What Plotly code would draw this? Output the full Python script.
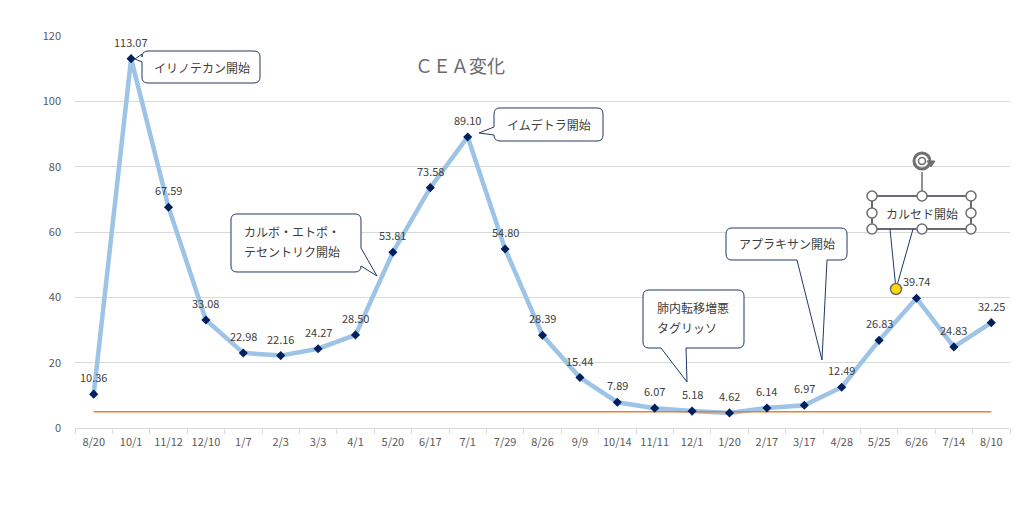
import plotly.graph_objects as go

# CEA values per test date
dates = ["8/20", "10/1", "11/12", "12/10", "1/7", "2/3", "3/3", "4/1", "5/20", "6/17",
         "7/1", "7/29", "8/26", "9/9", "10/14", "11/11", "12/1", "1/20", "2/17", "3/17",
         "4/28", "5/25", "6/26", "7/14", "8/10"]
cea = [10.36, 113.07, 67.59, 33.08, 22.98, 22.16, 24.27, 28.50, 53.81, 73.58,
       89.10, 54.80, 28.39, 15.44, 7.89, 6.07, 5.18, 4.62, 6.14, 6.97,
       12.49, 26.83, 39.74, 24.83, 32.25]
ref_value = 5.0  # upper limit of normal
y_ticks = [0, 20, 40, 60, 80, 100, 120]

# page geometry (pixels); the browser puts an 8px body margin round the figure
W, H = 1023, 519
OFF = 8
L, R, T, B = 75, 13, 36, 91
PW, PH = W - L - R, H - T - B

FONT = "Noto Sans CJK JP, Noto Sans, sans-serif"
TXT = "#404040"
EDGE = "#1f3864"


def px(x):
    return (x - L) / PW


def py(y):
    return (T + PH - y) / PH


def pt(x, y):
    return f"{px(x):.5f},{py(y):.5f}"


def callout(x0, y0, x1, y1, tail=None, r=6):
    # rounded rectangle with a wedge, traced clockwise on screen
    edge, p1, tip, p2 = tail if tail else (None, None, None, None)
    d = "M" + pt(x0 + r, y0)
    if edge == "top":
        d += " L" + pt(p1, y0) + " L" + pt(*tip) + " L" + pt(p2, y0)
    d += " L" + pt(x1 - r, y0) + " Q" + pt(x1, y0) + " " + pt(x1, y0 + r)
    if edge == "right":
        d += " L" + pt(x1, p1) + " L" + pt(*tip) + " L" + pt(x1, p2)
    d += " L" + pt(x1, y1 - r) + " Q" + pt(x1, y1) + " " + pt(x1 - r, y1)
    if edge == "bottom":
        d += " L" + pt(p1, y1) + " L" + pt(*tip) + " L" + pt(p2, y1)
    d += " L" + pt(x0 + r, y1) + " Q" + pt(x0, y1) + " " + pt(x0, y1 - r)
    if edge == "left":
        d += " L" + pt(x0, p1) + " L" + pt(*tip) + " L" + pt(x0, p2)
    d += " L" + pt(x0, y0 + r) + " Q" + pt(x0, y0) + " " + pt(x0 + r, y0) + " Z"
    return dict(type="path", xref="paper", yref="paper", path=d,
                fillcolor="white", line=dict(color=EDGE, width=1), layer="above")


def label(x, y, text, size=12):
    return dict(xref="paper", yref="paper", x=px(x), y=py(y), text=text,
                showarrow=False, xanchor="left", yanchor="middle",
                font=dict(family=FONT, size=size, color=TXT))


def circle(cx, cy, rad, fill, color="#6f6f6f", width=1.5):
    return dict(type="circle", xref="paper", yref="paper",
                x0=px(cx - rad), x1=px(cx + rad), y0=py(cy + rad), y1=py(cy - rad),
                fillcolor=fill, line=dict(color=color, width=width), layer="above")


def seg(xa, ya, xb, yb, color, width=1):
    return dict(type="line", xref="paper", yref="paper",
                x0=px(xa), y0=py(ya), x1=px(xb), y1=py(yb),
                line=dict(color=color, width=width), layer="above")


fig = go.Figure()

fig.add_trace(go.Scatter(x=dates, y=cea, mode="lines",
                         line=dict(color="#9dc3e6", width=4.5), hoverinfo="skip"))
fig.add_trace(go.Scatter(x=[dates[0], dates[-1]], y=[ref_value, ref_value], mode="lines",
                         line=dict(color="#ed7d31", width=1.5), hoverinfo="skip"))
fig.add_trace(go.Scatter(x=dates, y=cea, mode="markers",
                         marker=dict(symbol="diamond", size=7, color="#002060")))

shapes = []
annotations = []

# data labels above each point
for d, v in zip(dates, cea):
    annotations.append(dict(x=d, y=v, xref="x", yref="y", text=f"{v:.2f}",
                            showarrow=False, yshift=17, yanchor="middle",
                            font=dict(family=FONT, size=11, color=TXT)))

# spreadsheet cell lines peeking above the chart
shapes.append(seg(OFF, 3, W - OFF, 3, "#e3e3e3"))
for cx in range(72, W - OFF, 72):
    shapes.append(seg(cx, OFF, cx, 3, "#e3e3e3"))

# speech bubbles
shapes.append(callout(142, 51, 260, 83, ("left", 62, (135, 59), 54)))
annotations.append(label(152, 67, "イリノテカン開始"))

shapes.append(callout(494, 108, 603, 141, ("left", 135, (479, 133), 127)))
annotations.append(label(505, 124, "イムデトラ開始"))

shapes.append(callout(231, 214, 361, 272, ("right", 248, (377, 276), 266)))
annotations.append(label(242, 231, "カルボ・エトポ・"))
annotations.append(label(242, 251, "テセントリク開始"))

shapes.append(callout(643, 290, 744, 348, ("bottom", 686, (687, 382), 661)))
annotations.append(label(655, 307, "肺内転移増悪"))
annotations.append(label(655, 327, "タグリッソ"))

shapes.append(callout(726, 228, 847, 260, ("bottom", 827, (822, 360), 797)))
annotations.append(label(737, 243, "アプラキサン開始"))

# selected callout with its handles
shapes.append(seg(890, 229, 896, 289, EDGE))
shapes.append(seg(913, 229, 896, 289, EDGE))
shapes.append(dict(type="rect", xref="paper", yref="paper",
                   x0=px(872), x1=px(971), y0=py(229), y1=py(196),
                   fillcolor="white", line=dict(color="#3a3a4a", width=1.5), layer="above"))
annotations.append(label(884, 213, "カルセド開始"))
shapes.append(seg(922, 172, 922, 196, "#6f6f6f", 1.5))
shapes.append(circle(922, 161, 8, "rgba(0,0,0,0)", "#6f6f6f", 3))
shapes.append(circle(922, 161, 3.5, "rgba(0,0,0,0)", "#6f6f6f", 1.5))
shapes.append(dict(type="path", xref="paper", yref="paper", layer="above",
                   path="M" + pt(927, 161) + " L" + pt(935, 161) + " L" + pt(931, 167) + " Z",
                   fillcolor="#6f6f6f", line=dict(color="#6f6f6f", width=1)))
for hx, hy in [(872, 196), (922, 196), (971, 196), (872, 213), (971, 213),
               (872, 229), (922, 229), (971, 229)]:
    shapes.append(circle(hx, hy, 5, "white"))
shapes.append(circle(896, 289, 5.5, "#ffd700", "#6f6f6f", 1.5))

# chart title
annotations.append(dict(xref="paper", yref="paper", x=px(460), y=py(65), text="ＣＥＡ変化",
                        showarrow=False, xanchor="center", yanchor="middle",
                        font=dict(family=FONT, size=18, color="#6a6a6a")))

fig.update_layout(
    width=W - 2 * OFF, height=H - 2 * OFF,
    margin=dict(l=L - OFF, r=R - OFF, t=T - OFF, b=B - OFF, pad=0),
    plot_bgcolor="white", paper_bgcolor="white",
    showlegend=False,
    shapes=shapes, annotations=annotations,
    xaxis=dict(type="category", range=[-0.5, len(dates) - 0.5],
               tickson="boundaries", ticks="outside", ticklen=5, tickcolor="#d9d9d9",
               showline=True, linecolor="#d9d9d9", linewidth=1, showgrid=False,
               tickangle=0, ticklabelstandoff=4,
               tickfont=dict(family=FONT, size=11, color="#595959"), fixedrange=True),
    yaxis=dict(range=[0, 120], tickvals=y_ticks, showgrid=True, gridcolor="#d9d9d9",
               zeroline=False, showline=False, ticks="", ticklabelstandoff=13,
               tickfont=dict(family=FONT, size=11, color="#595959"), fixedrange=True),
)

fig.write_html("out.html")
